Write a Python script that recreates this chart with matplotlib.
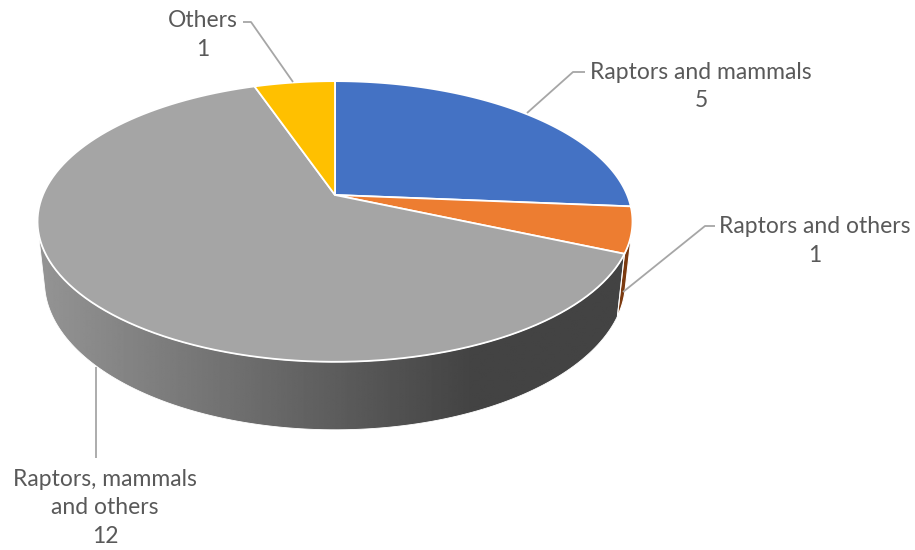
import numpy as np
import matplotlib
matplotlib.use("Agg")
import matplotlib.pyplot as plt
from matplotlib.patches import Polygon

# ---- data -------------------------------------------------------------
categories = ["Raptors and mammals", "Raptors and others",
              "Raptors, mammals\nand others", "Others"]
values = [5, 1, 12, 1]
colors = ["#4472C4", "#ED7D31", "#A5A5A5", "#FFC000"]
wall_colors = ["#2F528F", "#7B3A10", None, "#BF9000"]

# ---- 3-D pie geometry (perspective camera) -------------------------------
W, H = 915, 550
CX, CY = 335.0, 195.0          # screen position of the pie centre
ELEV = np.radians(27.6)        # camera elevation
DIST = 4.698                   # camera distance (in pie radii)
FOC = 1372.5                   # focal length in pixels
DEPTH = 0.234                  # pie thickness (in pie radii)
ce, se = np.cos(ELEV), np.sin(ELEV)


def proj(X, Y, Z):
    """Project world points (X right, Y toward viewer, Z up) to pixels."""
    X, Y, Z = np.asarray(X, float), np.asarray(Y, float), np.asarray(Z, float)
    depth = DIST - Y * ce - Z * se
    xs = CX + FOC * X / depth
    ys = CY + FOC * (Y * se - Z * ce) / depth
    return xs, ys


def rim(t0, t1, z, n=120):
    t = np.radians(np.linspace(t0, t1, n))
    return proj(np.sin(t), -np.cos(t), np.full_like(t, z))


fig = plt.figure(figsize=(W / 100, H / 100), dpi=100)
ax = fig.add_axes([0, 0, 1, 1])
ax.set_xlim(0, W)
ax.set_ylim(H, 0)
ax.axis("off")

total = float(sum(values))
bounds = np.concatenate([[0.0], np.cumsum(values) / total * 360.0])

# visible part of the outer wall: where the wall normal faces the camera
lim = np.degrees(np.arccos(-1.0 / (DIST * ce)))
vis0, vis1 = lim, 360.0 - lim

# ---- outer walls ---------------------------------------------------------
for i in range(len(values)):
    a, b = max(bounds[i], vis0), min(bounds[i + 1], vis1)
    if b <= a:
        continue
    tx, ty = rim(a, b, 0.0)
    bx, by = rim(b, a, -DEPTH)
    pts = np.column_stack([np.concatenate([tx, bx]), np.concatenate([ty, by])])
    if wall_colors[i] is None:
        # shaded grey wall: light on the left, dark on the right
        poly = Polygon(pts, closed=True, facecolor="none", edgecolor="none")
        ax.add_patch(poly)
        xs = np.linspace(0, W, 600)
        shade = np.interp(xs, [40, 470], [0.58, 0.265])
        img = np.tile(shade, (10, 1))
        im = ax.imshow(img, cmap="gray", vmin=0, vmax=1, aspect="auto",
                       extent=[0, W, 460, 200], interpolation="bilinear",
                       zorder=1)
        im.set_clip_path(poly)
        ax.add_patch(Polygon(pts, closed=True, facecolor="none",
                             edgecolor="white", lw=0.6, zorder=2))
    else:
        ax.add_patch(Polygon(pts, closed=True, facecolor=wall_colors[i],
                             edgecolor="white", lw=0.8, zorder=2))

# ---- top faces -----------------------------------------------------------
for i in range(len(values)):
    ax_, ay_ = rim(bounds[i], bounds[i + 1], 0.0)
    px, py = proj(0, 0, 0)
    pts = np.column_stack([np.concatenate([[px], ax_]),
                           np.concatenate([[py], ay_])])
    ax.add_patch(Polygon(pts, closed=True, facecolor=colors[i],
                         edgecolor="white", lw=1.3, joinstyle="round",
                         zorder=3))

# ---- data labels with leader lines ------------------------------------
txt_kw = dict(color="#595959", fontsize=16.5, family="Lato",
              ha="center", va="center", linespacing=1.42)
line_kw = dict(color="#A6A6A6", lw=1.3, zorder=4, solid_capstyle="butt")

label_pos = [(701, 86.5), (815, 241), (105, 508), (203, 35)]
leaders = [
    [(585, 72), (573, 72), (527, 113)],
    [(715, 226), (705, 226), (623, 292)],
    [(96, 458), (96, 367)],
    [(243, 22), (251, 22), (293, 82)],
]
for name, val, (lx, ly), path in zip(categories, values, label_pos, leaders):
    ax.text(lx, ly, f"{name}\n{val}", **txt_kw)
    xs, ys = zip(*path)
    ax.plot(xs, ys, **line_kw)

fig.savefig("out.png", dpi=100, facecolor="white")
